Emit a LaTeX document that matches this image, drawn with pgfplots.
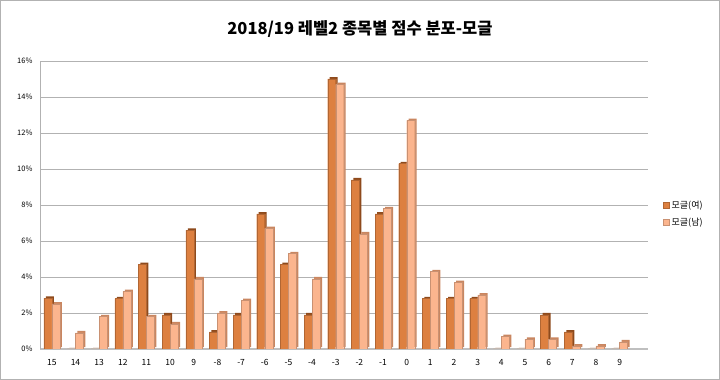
\documentclass[border=0pt]{standalone}
\usepackage{pgfplots}
\pgfplotsset{compat=1.18}
\usepackage{fontspec}
\setmainfont{Noto Sans CJK KR}
\definecolor{darkO}{HTML}{DD8040}
\definecolor{lightO}{HTML}{FBB58E}
\definecolor{darkS}{HTML}{8E4A1C}
\definecolor{lightS}{HTML}{C98660}
\pgfplotstableread{
x f m
0 2.83 2.5
1 0.0 0.9
2 0.0 1.8
3 2.8 3.2
4 4.7 1.8
5 1.9 1.4
6 6.6 3.9
7 0.95 2.0
8 1.9 2.7
9 7.5 6.7
10 4.7 5.3
11 1.9 3.9
12 15.0 14.7
13 9.4 6.4
14 7.5 7.8
15 10.3 12.7
16 2.8 4.3
17 2.8 3.7
18 2.8 3.0
19 0.0 0.7
20 0.0 0.55
21 1.9 0.55
22 0.95 0.17
23 0.0 0.17
24 0.0 0.4
}\data
\begin{document}
\begin{tikzpicture}
\useasboundingbox (0,0) rectangle (720pt,380pt);
\draw[gray!60, line width=1pt] (0.5pt,0.5pt) rectangle (719.5pt,379.5pt);
\node[font=\bfseries\fontsize{16.5}{18}\selectfont] at (360pt,351pt) {2018/19 레벨2 종목별 점수 분포-모글};
\begin{axis}[
  at={(40pt,31pt)}, anchor=south west, scale only axis,
  width=608pt, height=288pt,
  xmin=-0.5, xmax=25.2, ymin=0, ymax=16,
  xtick={0,...,24},
  xticklabels={15,14,13,12,11,10,9,-8,-7,-6,-5,-4,-3,-2,-1,0,1,2,3,4,5,6,7,8,9},
  ytick={0,2,...,16},
  yticklabel={\pgfmathprintnumber{\tick}\%},
  /pgf/number format/assume math mode=true,
  ymajorgrids, grid style={gray!60, line width=0.8pt},
  major tick length=0pt,
  axis x line*=bottom, axis y line*=left,
  x axis line style={gray!50, line width=1.5pt},
  y axis line style={gray!60, line width=0.8pt},
  xticklabel style={font=\fontsize{8.5}{10}\selectfont, yshift=-7pt},
  yticklabel style={font=\fontsize{7.5}{9}\selectfont, xshift=-4pt},
  ybar, bar width=8pt,
  legend style={at={(1.02,0.47)}, anchor=west, draw=none, fill=none,
    font=\fontsize{9}{11}\selectfont, row sep=4pt},
  legend image code/.code={\fill[#1] (0pt,-3pt) rectangle (6pt,3pt);},
]
\addplot[forget plot, fill=darkS, draw=none, bar shift=-2pt, yshift=1.8pt] table[x=x,y=f]{\data};
\addplot[forget plot, fill=lightS, draw=none, bar shift=6pt, yshift=1.8pt] table[x=x,y=m]{\data};
\addplot[fill=darkO, draw=darkO!80!black, line width=0.3pt, bar shift=-4pt] table[x=x,y=f]{\data};
\addplot[fill=lightO, draw=lightO!80!black, line width=0.3pt, bar shift=4pt] table[x=x,y=m]{\data};
\legend{모글(여),모글(남)}
\end{axis}
\end{tikzpicture}
\end{document}
